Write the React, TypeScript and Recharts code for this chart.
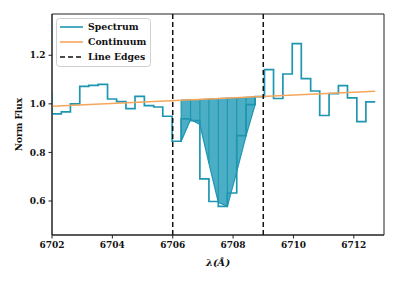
import React from 'react';
import { ComposedChart, Line, Area, XAxis, YAxis, ReferenceLine, ReferenceArea } from 'recharts';

// right edge of each bin (Å) and its flux, drawn as steps-pre
const wave = [
    6702.0, 6702.31, 6702.61, 6702.92, 6703.22, 6703.53, 6703.84, 6704.14, 6704.45, 6704.75,
    6705.06, 6705.37, 6705.67, 6705.98, 6706.28, 6706.59, 6706.9, 6707.2, 6707.51, 6707.81,
    6708.12, 6708.43, 6708.73, 6709.04, 6709.34, 6709.65, 6709.96, 6710.26, 6710.57, 6710.87,
    6711.18, 6711.49, 6711.79, 6712.1, 6712.4, 6712.71,
];
const flux = [
    1.045, 0.959, 0.967, 1.0, 1.072, 1.076, 1.08, 1.02, 1.009, 0.98,
    1.031, 0.993, 0.987, 0.949, 0.846, 0.938, 0.931, 0.691, 0.598, 0.578,
    0.633, 0.869, 0.997, 1.03, 1.141, 1.022, 1.123, 1.248, 1.104, 1.053,
    0.952, 1.042, 1.075, 1.025, 0.927, 1.008,
];

const contWave = [6702.0, 6712.71];
const contFlux = [0.99, 1.052];

// absorption area between the line edges
const fillWave = [6706.28, 6706.59, 6706.9, 6707.2, 6707.51, 6707.81, 6708.12, 6708.43, 6708.73];
const fillLow = [0.846, 0.936, 0.915, 0.755, 0.595, 0.578, 0.72, 0.869, 0.997];
const fillTop = [1.015, 1.017, 1.018, 1.02, 1.022, 1.024, 1.025, 1.027, 1.029];

const lineEdges = [6706, 6709];
const xTicks = [6702, 6704, 6706, 6708, 6710, 6712];
const yTicks = [0.6, 0.8, 1.0, 1.2];

const SPEC = '#1e96b1';
const FILL = '#4caec5';
const CONT = '#f6a65c';
const FONT = '"DejaVu Serif", serif';

const specData = wave.map((w, i) => ({ w, f: flux[i] }));
const contData = contWave.map((w, i) => ({ w, c: contFlux[i] }));
const fillData = fillWave.map((w, i) => ({ w, band: [fillLow[i], fillTop[i]] }));

const tickStyle = { fontFamily: FONT, fontWeight: 'bold', fontSize: 9, fill: '#111' };

const legendRows = [
    { name: 'Spectrum', color: SPEC, dash: undefined },
    { name: 'Continuum', color: CONT, dash: undefined },
    { name: 'Line Edges', color: '#111', dash: '5 3' },
];

const App = () => {
    return (
        <div style={{ position: 'absolute', left: 0, top: 0, width: 399, height: 282 }}>
            <ComposedChart width={399} height={282} margin={{ top: 14, right: 15, bottom: 0, left: 0 }}>
                <XAxis
                    dataKey="w"
                    type="number"
                    domain={[6702, 6713]}
                    allowDataOverflow
                    ticks={xTicks}
                    height={47}
                    tickSize={3.5}
                    tickMargin={3}
                    stroke="#222"
                    tick={tickStyle}
                    label={{
                        value: 'λ(Å)',
                        position: 'insideBottom',
                        offset: 16,
                        style: { fontFamily: FONT, fontWeight: 'bold', fontStyle: 'italic', fontSize: 10, fill: '#111' },
                    }}
                />
                <YAxis
                    type="number"
                    domain={[0.46, 1.37]}
                    allowDataOverflow
                    ticks={yTicks}
                    width={52}
                    tickSize={3.5}
                    tickMargin={3}
                    stroke="#222"
                    tick={tickStyle}
                    tickFormatter={(v: number) => v.toFixed(1)}
                    label={{
                        value: 'Norm Flux',
                        angle: -90,
                        position: 'insideLeft',
                        offset: 19,
                        style: { textAnchor: 'middle', fontFamily: FONT, fontWeight: 'bold', fontSize: 9, fill: '#111' },
                    }}
                />
                <Area
                    data={fillData}
                    dataKey="band"
                    type="linear"
                    stroke={SPEC}
                    strokeWidth={1.2}
                    fill={FILL}
                    fillOpacity={1}
                    isAnimationActive={false}
                />
                {fillWave.map((w, i) => (
                    <ReferenceLine
                        key={`v-${i}`}
                        segment={[{ x: w, y: fillLow[i] }, { x: w, y: fillTop[i] }]}
                        stroke={SPEC}
                        strokeWidth={1.2}
                    />
                ))}
                <Line
                    data={specData}
                    dataKey="f"
                    type="stepBefore"
                    stroke={SPEC}
                    strokeWidth={1.7}
                    dot={false}
                    isAnimationActive={false}
                />
                <Line
                    data={contData}
                    dataKey="c"
                    type="linear"
                    stroke={CONT}
                    strokeWidth={1.6}
                    dot={false}
                    isAnimationActive={false}
                />
                {lineEdges.map((x) => (
                    <ReferenceLine key={x} x={x} stroke="#111" strokeWidth={1.5} strokeDasharray="5 3" />
                ))}
                <ReferenceArea x1={6702} x2={6713} y1={0.46} y2={1.37} fill="none" stroke="#222" strokeWidth={1} />
            </ComposedChart>
            <svg width={96} height={50} style={{ position: 'absolute', left: 56, top: 18 }}>
                <rect x={0.5} y={0.5} width={94} height={48} rx={3} fill="rgba(255,255,255,0.85)" stroke="#d0d0d0" />
                {legendRows.map((r, i) => (
                    <g key={r.name}>
                        <line x1={4} x2={27} y1={9 + i * 15} y2={9 + i * 15} stroke={r.color} strokeWidth={1.6} strokeDasharray={r.dash} />
                        <text x={32} y={12.3 + i * 15} fontFamily={FONT} fontWeight="bold" fontSize={9.3} fill="#111">
                            {r.name}
                        </text>
                    </g>
                ))}
            </svg>
        </div>
    );
};

export default App;
